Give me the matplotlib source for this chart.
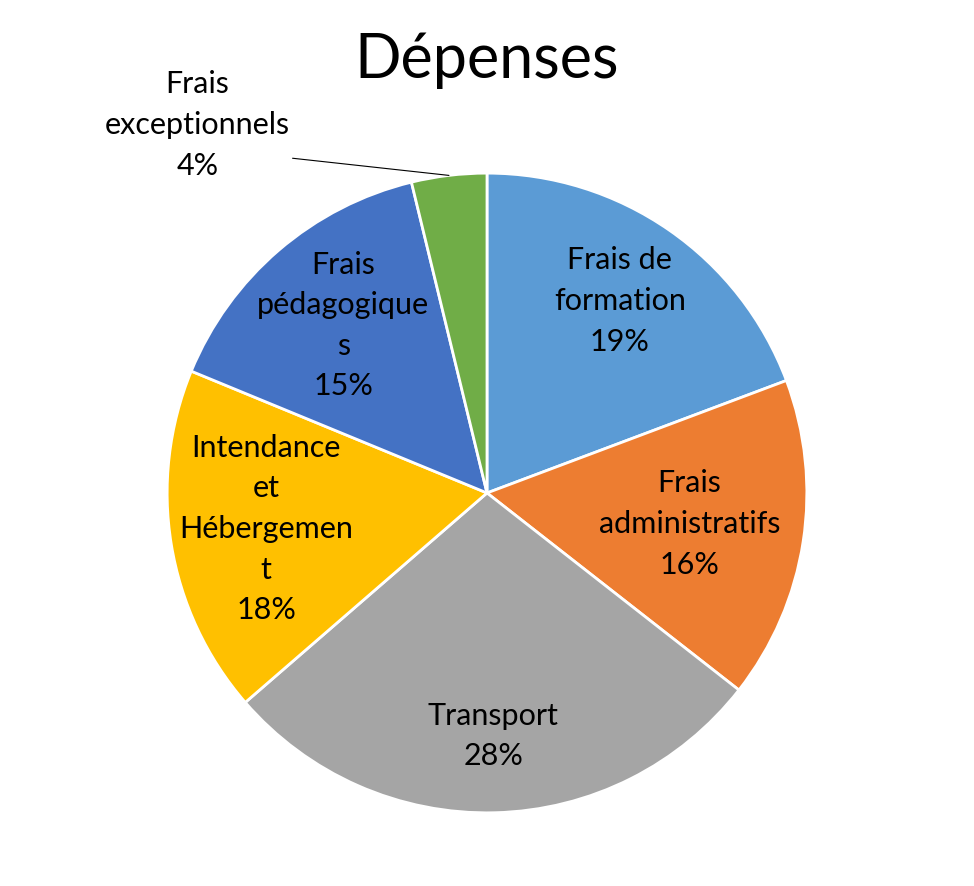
import numpy as np
import matplotlib.pyplot as plt

plt.rcParams['font.family'] = ['Lato', 'DejaVu Sans']

# data (clockwise from 12 o'clock)
categories = ['Frais de\nformation', 'Frais\nadministratifs', 'Transport',
              'Intendance\net\nHébergemen\nt', 'Frais\npédagogique\ns',
              'Frais\nexceptionnels']
values = [19.3, 16.3, 28.1, 17.6, 15.0, 3.8]
colors = ['#5B9BD5', '#ED7D31', '#A5A5A5', '#FFC000', '#4472C4', '#70AD47']
label_r = [0.73, 0.64, 0.76, 0.70, 0.69, None]

fig = plt.figure(figsize=(9.74, 8.86), dpi=100)
ax = fig.add_axes([0.5 - 0.3285, 0.4436 - 0.361, 0.657, 0.722])

wedges, _ = ax.pie(values, colors=colors, startangle=90, counterclock=False,
                   wedgeprops=dict(edgecolor='white', linewidth=2))
ax.set_xlim(-1, 1)
ax.set_ylim(-1, 1)
ax.set_aspect('equal')
ax.axis('off')

total = sum(values)
for w, cat, v, r in zip(wedges, categories, values, label_r):
    pct = '%d%%' % round(v / total * 100)
    ang = np.deg2rad((w.theta1 + w.theta2) / 2)
    if r is None:
        # small slice, label outside with leader line
        ax.annotate(cat + '\n' + pct, xy=(np.cos(ang) * 1.0, np.sin(ang) * 1.0),
                    xytext=(-0.906, 1.15), ha='center', va='center',
                    fontsize=22, linespacing=1.55, annotation_clip=False,
                    arrowprops=dict(arrowstyle='-', color='black', lw=0.8,
                                    shrinkA=0, shrinkB=0,
                                    relpos=(1.0, 0.2)))
    else:
        ax.text(np.cos(ang) * r, np.sin(ang) * r, cat + '\n' + pct,
                ha='center', va='center', fontsize=22, linespacing=1.55)

fig.text(0.5, 0.932, 'Dépenses', ha='center', va='center', fontsize=44)

plt.savefig('out.png', dpi=100)
